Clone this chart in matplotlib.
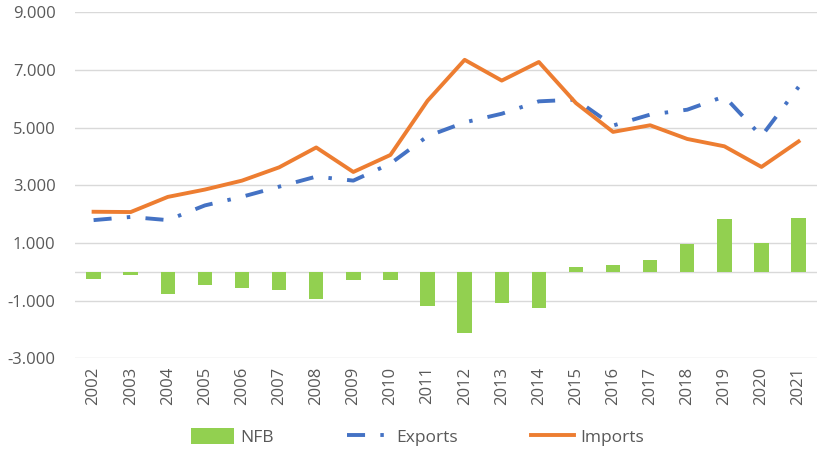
import numpy as np
import matplotlib
matplotlib.use("Agg")
import matplotlib.pyplot as plt
from matplotlib.ticker import FuncFormatter

plt.rcParams['font.family'] = ['Open Sans', 'DejaVu Sans']
plt.rcParams['lines.scale_dashes'] = False

years = [str(y) for y in range(2002, 2022)]
nfb = [-260, -120, -770, -470, -550, -650, -950, -290, -290, -1190,
       -2140, -1085, -1270, 180, 225, 400, 965, 1830, 1000, 1870]
exports = [1790, 1900, 1790, 2300, 2600, 2950, 3300, 3160, 3750, 4700,
           5180, 5480, 5910, 5970, 5070, 5450, 5620, 6080, 4700, 6410]
imports = [2080, 2070, 2595, 2850, 3160, 3620, 4310, 3460, 4050, 5930,
           7350, 6630, 7275, 5850, 4850, 5080, 4605, 4350, 3635, 4520]

green = '#92D050'
blue = '#4472C4'
orange = '#ED7D31'
txt = '#595959'

fig = plt.figure(figsize=(8.2, 4.54), dpi=100)
ax = fig.add_axes([0.0915, 0.211, 0.905, 0.762])

x = np.arange(len(years))
b = ax.bar(x, nfb, width=0.39, color=green, label='NFB', zorder=2)
l1, = ax.plot(x, exports, color=blue, lw=2.8, linestyle=(0, (13, 11, 2.5, 11)),
              label='Exports', zorder=3)
l2, = ax.plot(x, imports, color=orange, lw=2.8, label='Imports', zorder=4,
              solid_joinstyle='round')

ax.set_xlim(-0.5, len(years) - 0.5)
ax.set_ylim(-3000, 9000)
ax.set_yticks(range(-3000, 9001, 2000))
ax.yaxis.set_major_formatter(FuncFormatter(lambda v, p: f"{int(v):,}".replace(",", ".")))
ax.set_xticks(x)
ax.set_xticklabels(years, rotation=90)
ax.grid(axis='y', color='#D9D9D9', lw=1, zorder=0)
ax.axhline(0, color='#D9D9D9', lw=1, zorder=1)
for s in ax.spines.values():
    s.set_visible(False)
ax.tick_params(axis='both', length=0, colors=txt, labelsize=12)
ax.tick_params(axis='y', pad=14)
ax.tick_params(axis='x', pad=6)

fig.legend([b, l1, l2], ['NFB', 'Exports', 'Imports'], loc='center',
           bbox_to_anchor=(0.509, 0.037), ncol=3, frameon=False,
           fontsize=12.5, handlelength=2.5, handleheight=1.0, handletextpad=0.35,
           columnspacing=4.2, labelcolor=txt)

fig.savefig('out.png', dpi=100)
